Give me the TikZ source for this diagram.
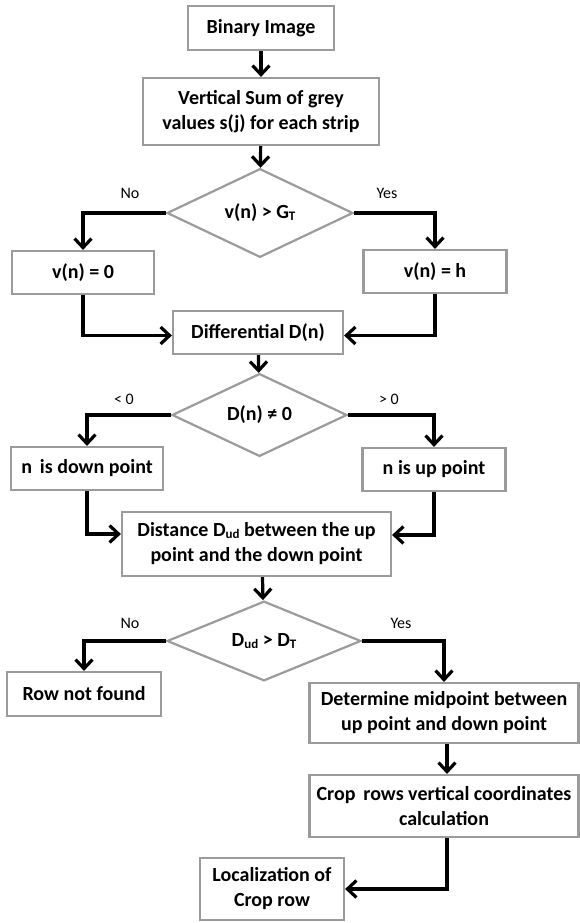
\documentclass[tikz,border=0pt]{standalone}
\usepackage{fontspec}
\setmainfont{Carlito}
\usetikzlibrary{arrows.meta,shapes.geometric}
\definecolor{boxgray}{RGB}{155,155,155}
\newcommand{\lowsub}[1]{\raisebox{-2pt}{\fontsize{13}{13}\selectfont #1}}
\begin{document}
\begin{tikzpicture}[x=1pt,y=-1pt,
  box/.style={draw=boxgray, line width=2.2pt, fill=white, inner sep=0pt, align=center, font=\bfseries\fontsize{20}{25}\selectfont},
  dec/.style={diamond, draw=boxgray, line width=2.2pt, fill=white, inner sep=0pt, font=\bfseries\fontsize{20}{25}\selectfont},
  conn/.style={line width=3.2pt, -{Straight Barb[length=9pt,width=17pt]}},
  lbl/.style={font=\fontsize{16}{16}\selectfont}
]
\fill[white] (0,0) rectangle (580,923);
\useasboundingbox (0,0) rectangle (580,923);

\node[box, minimum width=146pt, minimum height=44pt] (bin) at (261,28) {Binary Image};
\node[box, minimum width=236pt, minimum height=67pt] (vsum) at (261,111.5) {Vertical Sum of grey\\values s(j) for each strip};
\node[dec, minimum width=186pt, minimum height=74pt] (d1) at (260,213) {v(n) > G\lowsub{T}};
\node[box, minimum width=142pt, minimum height=43pt] (v0) at (83,272.5) {v(n) = 0};
\node[box, minimum width=143pt, minimum height=43pt] (vh) at (435,271.5) {v(n) = h};
\node[box, minimum width=170pt, minimum height=43pt] (diff) at (258,332.5) {Differential D(n)};
\node[dec, minimum width=175pt, minimum height=64pt] (d2) at (259.5,415) {D(n) ≠ 0};
\node[box, minimum width=152pt, minimum height=43pt] (down) at (87,468.5) {n\, is down point};
\node[box, minimum width=143pt, minimum height=43pt] (up) at (434,469.5) {n is up point};
\node[box, minimum width=269pt, minimum height=64pt] (dist) at (256.5,544) {Distance D\lowsub{ud} between the up\\point and the down point};
\node[dec, minimum width=194pt, minimum height=73pt] (d3) at (264,641) {D\lowsub{ud} > D\lowsub{T}};
\node[box, minimum width=154pt, minimum height=44pt] (notf) at (84,694) {Row not found};
\node[box, minimum width=269pt, minimum height=60pt] (det) at (444,713) {Determine midpoint between\\up point and down point};
\node[box, minimum width=269pt, minimum height=62pt] (crop) at (444,806) {Crop\, rows vertical coordinates\\calculation};
\node[box, minimum width=144pt, minimum height=62pt] (loc) at (272,889) {Localization of\\Crop row};

\node[lbl] (l1) at (130,193) {No};
\node[lbl] (l2) at (387,193) {Yes};
\node[lbl] (l3) at (124,399) {< 0};
\node[lbl] (l4) at (389,399) {> 0};
\node[lbl] (l5) at (130,623) {No};
\node[lbl] (l6) at (401,623) {Yes};

\draw[conn] (bin) -- (vsum);
\draw[conn] (vsum) -- (d1);
\draw[conn] (d1.west) -| (v0.north);
\draw[conn] (d1.east) -| (vh.north);
\draw[conn] (v0.south) |- ([yshift=-3pt]diff.west);
\draw[conn] (vh.south) |- ([yshift=-3pt]diff.east);
\draw[conn] (diff) -- (d2);
\draw[conn] (d2.west) -| (down.north);
\draw[conn] (d2.east) -| (up.north);
\draw[conn] (down.south) |- ([yshift=10pt]dist.west);
\draw[conn] (up.south) |- ([yshift=9pt]dist.east);
\draw[conn] ([xshift=6pt]dist.south) -- ([xshift=-1pt]d3.north);
\draw[conn] (d3.west) -| (notf.north);
\draw[conn] (d3.east) -| (det.north);
\draw[conn] ([xshift=3pt]det.south) -- ([xshift=3pt]crop.north);
\draw[conn] ([xshift=3pt]crop.south) |- (loc.east);
\end{tikzpicture}
\end{document}
